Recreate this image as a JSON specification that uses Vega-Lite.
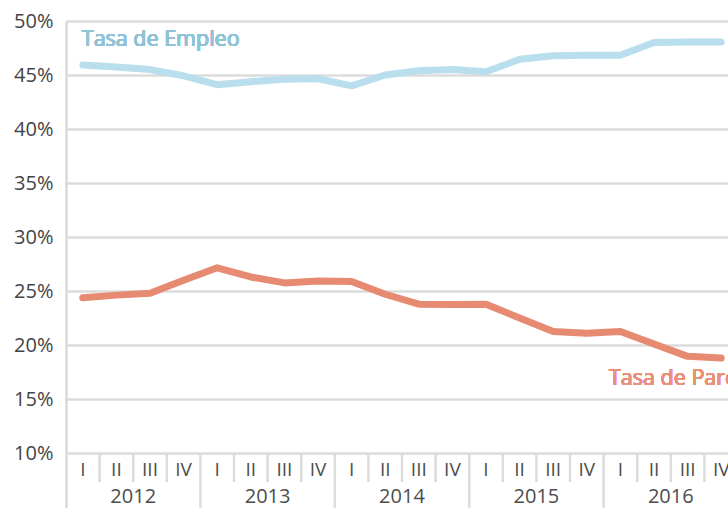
{
  "$schema": "https://vega.github.io/schema/vega-lite/v6.json",
  "width": 662,
  "height": 487,
  "padding": {"left": 66, "top": 21, "right": 0, "bottom": 0},
  "autosize": {"type": "none"},
  "background": "white",
  "config": {"view": {"stroke": null}, "font": "Open Sans"},
  "data": {
    "values": [
      {"t": 0, "year": "2012", "q": "I", "empleo": 0.4593, "paro": 0.2438},
      {"t": 1, "year": "2012", "q": "II", "empleo": 0.4575, "paro": 0.2462},
      {"t": 2, "year": "2012", "q": "III", "empleo": 0.4550, "paro": 0.2480},
      {"t": 3, "year": "2012", "q": "IV", "empleo": 0.4493, "paro": 0.2600},
      {"t": 4, "year": "2013", "q": "I", "empleo": 0.4410, "paro": 0.2715},
      {"t": 5, "year": "2013", "q": "II", "empleo": 0.4438, "paro": 0.2630},
      {"t": 6, "year": "2013", "q": "III", "empleo": 0.4460, "paro": 0.2575},
      {"t": 7, "year": "2013", "q": "IV", "empleo": 0.4465, "paro": 0.2592},
      {"t": 8, "year": "2014", "q": "I", "empleo": 0.4400, "paro": 0.2588},
      {"t": 9, "year": "2014", "q": "II", "empleo": 0.4500, "paro": 0.2470},
      {"t": 10, "year": "2014", "q": "III", "empleo": 0.4540, "paro": 0.2378},
      {"t": 11, "year": "2014", "q": "IV", "empleo": 0.4552, "paro": 0.2374},
      {"t": 12, "year": "2015", "q": "I", "empleo": 0.4530, "paro": 0.2378},
      {"t": 13, "year": "2015", "q": "II", "empleo": 0.4645, "paro": 0.2250},
      {"t": 14, "year": "2015", "q": "III", "empleo": 0.4678, "paro": 0.2125},
      {"t": 15, "year": "2015", "q": "IV", "empleo": 0.4682, "paro": 0.2110},
      {"t": 16, "year": "2016", "q": "I", "empleo": 0.4682, "paro": 0.2125},
      {"t": 17, "year": "2016", "q": "II", "empleo": 0.4800, "paro": 0.2010},
      {"t": 18, "year": "2016", "q": "III", "empleo": 0.4805, "paro": 0.1895},
      {"t": 19, "year": "2016", "q": "IV", "empleo": 0.4805, "paro": 0.1880}
    ]
  },
  "encoding": {
    "x": {"field": "t", "type": "quantitative", "scale": {"domain": [-0.5, 19.2024], "nice": false, "zero": false}, "axis": null}
  },
  "layer": [
    {
      "transform": [{"fold": ["empleo", "paro"], "as": ["serie", "valor"]}],
      "mark": {"type": "line", "strokeWidth": 7, "strokeCap": "round", "strokeJoin": "round"},
      "encoding": {
        "y": {
          "field": "valor", "type": "quantitative",
          "scale": {"domain": [0.0491, 0.5], "nice": false, "zero": false},
          "axis": {
            "values": [0.1, 0.15, 0.2, 0.25, 0.3, 0.35, 0.4, 0.45, 0.5],
            "format": ".0%", "title": null,
            "labelFont": "Open Sans", "labelFontSize": 20, "labelColor": "#444444",
            "labelPadding": 13, "ticks": false,
            "domainColor": "#d9d9d9", "domainWidth": 2.5,
            "grid": true, "gridColor": "#dcdcdc", "gridWidth": 2.5
          }
        },
        "color": {"field": "serie", "type": "nominal", "scale": {"domain": ["empleo", "paro"], "range": ["#b9deed", "#e68a72"]}, "legend": null}
      }
    },
    {
      "transform": [{"filter": "datum.q != 'IV'"}],
      "mark": {"type": "rule", "color": "#dcdcdc", "strokeWidth": 2.5, "xOffset": 16.8},
      "encoding": {"y": {"datum": 0.1}, "y2": {"datum": 0.0731}}
    },
    {
      "transform": [{"filter": "datum.q == 'IV'"}],
      "mark": {"type": "rule", "color": "#dcdcdc", "strokeWidth": 2.5, "xOffset": 16.8},
      "encoding": {"y": {"datum": 0.1}, "y2": {"datum": 0.0491}}
    },
    {
      "mark": {"type": "text", "font": "Open Sans", "fontSize": 19, "color": "#4d4d4d", "baseline": "middle", "align": "center"},
      "encoding": {"y": {"datum": 0.0843}, "text": {"field": "q", "type": "nominal"}}
    },
    {
      "mark": {"type": "text", "font": "Open Sans", "fontSize": 20, "color": "#4d4d4d", "baseline": "middle", "align": "center"},
      "encoding": {
        "x": {"aggregate": "mean", "field": "t", "type": "quantitative"},
        "y": {"datum": 0.0590},
        "text": {"field": "year", "type": "nominal"}
      }
    },
    {
      "mark": {"type": "text", "font": "Open Sans", "fontSize": 21.5, "fontWeight": 500, "color": "#8fc3d5", "baseline": "middle", "align": "left"},
      "encoding": {"x": {"datum": -0.03}, "y": {"datum": 0.4820}, "text": {"value": "Tasa de Empleo"}}
    },
    {
      "mark": {"type": "text", "font": "Open Sans", "fontSize": 21.5, "fontWeight": 500, "color": "#e9917a", "baseline": "middle", "align": "right"},
      "encoding": {"x": {"datum": 19.5}, "y": {"datum": 0.1690}, "text": {"value": "Tasa de Paro"}}
    }
  ]
}
